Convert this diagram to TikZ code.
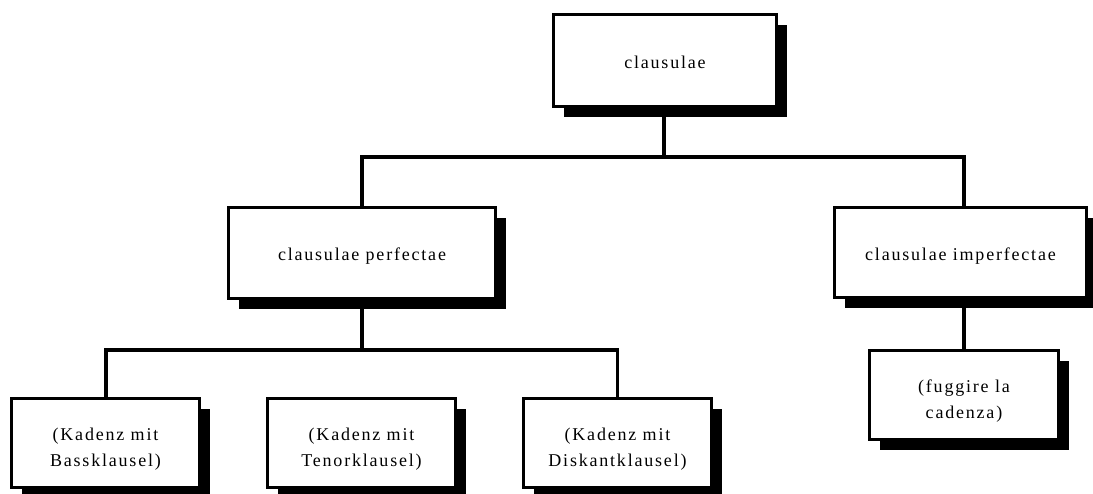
\documentclass[tikz,border=0pt]{standalone}
\usepackage{fontspec}
\setmainfont[LetterSpace=10]{Liberation Serif}
\usetikzlibrary{shadows}
\tikzset{
  box/.style={draw, line width=3.5pt, fill=white, align=center, inner sep=0pt,
    font=\fontsize{18}{26}\selectfont,
    drop shadow={shadow xshift=10pt, shadow yshift=-10pt, opacity=1, fill=black}},
  oneline/.style={text height=16pt, text depth=1pt},
  twoline/.style={text height=46pt, text depth=0pt},
  wide/.style={minimum width=#1pt},
  tall/.style={minimum height=#1pt},
  link/.style={line width=3.2pt, line cap=rect}
}
\begin{document}
\begin{tikzpicture}[x=1pt,y=-1pt]
\useasboundingbox (0,0) rectangle (1093,493);
\clip (0,0) rectangle (1093,493);
% junction points of the tree
\coordinate (j1) at (664,157);
\coordinate (j2) at (362,350);
% connectors
\draw[link] (664,108) -- (j1);
\draw[link] (362,206) |- (j1) -| (964,206);
\draw[link] (362,300) -- (j2);
\draw[link] (106,397) |- (j2) -| (617.5,397);
\draw[link] (964,299) -- (964,349);
% boxes
\node[box, oneline, wide=223, tall=92] (top) at (665,60.5) {clausulae};
\node[box, oneline, wide=267, tall=91] (perf) at (362,253) {clausulae perfectae};
\node[box, oneline, wide=252, tall=90] (imp) at (960.5,252.5) {clausulae imperfectae};
\node[box, twoline, wide=188, tall=89] (bass) at (105.5,443) {(Kadenz mit\\Bassklausel)};
\node[box, twoline, wide=188, tall=89] (tenor) at (361.5,443) {(Kadenz mit\\Tenorklausel)};
\node[box, twoline, wide=188, tall=89] (disk) at (617.5,443) {(Kadenz mit\\Diskantklausel)};
\node[box, twoline, wide=189, tall=89] (fug) at (964,395) {(fuggire la\\cadenza)};
\end{tikzpicture}
\end{document}
